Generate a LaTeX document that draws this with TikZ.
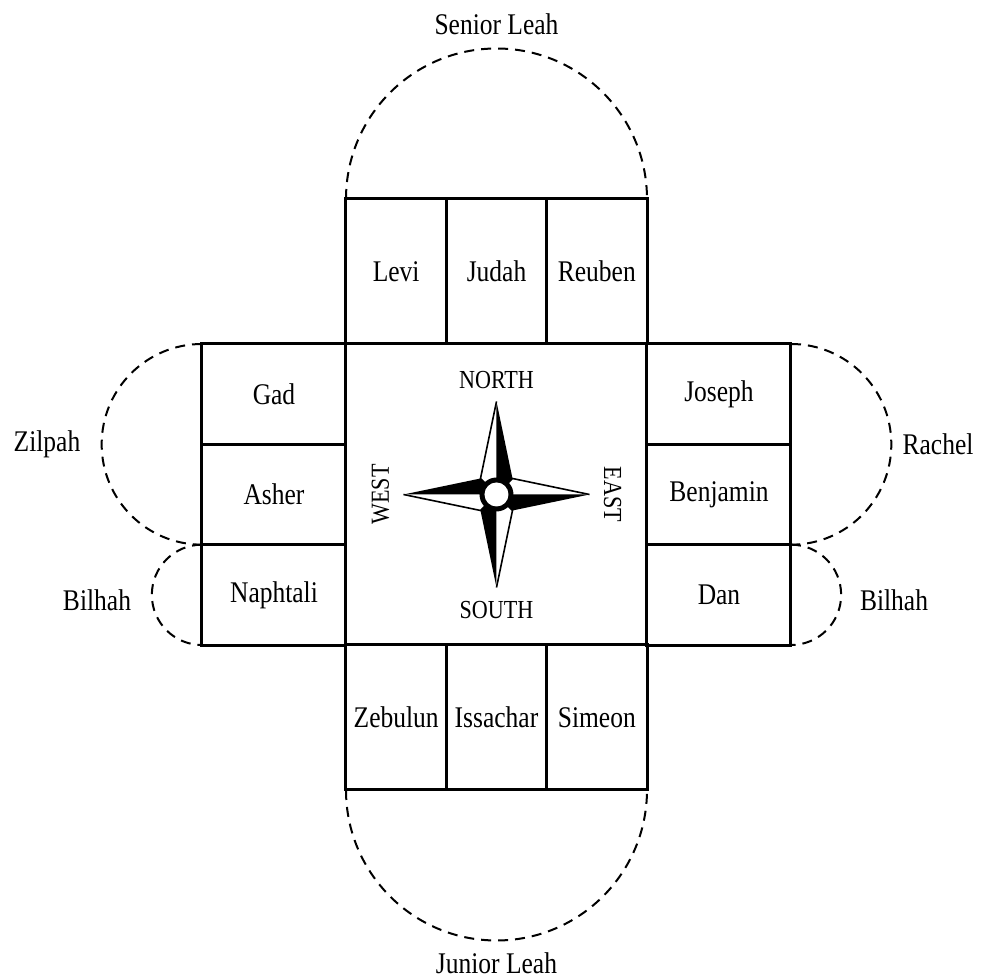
\documentclass[tikz,border=0pt]{standalone}
\usepackage{fontspec}
\setmainfont{Liberation Serif}[FakeStretch=0.85]
\usetikzlibrary{positioning}

\begin{document}
\begin{tikzpicture}[
  tribe/.style={draw, line width=1.5pt, minimum width=50.17pt, minimum height=72.5pt,
                inner sep=0pt, outer sep=0pt, font=\fontsize{15}{17}\selectfont},
  side tribe/.style={tribe, minimum width=72pt, minimum height=50.17pt},
  tentline/.style={line width=1pt, dash pattern=on 5pt off 3.5pt},
  mother/.style={inner sep=0pt, font=\fontsize{15}{17}\selectfont},
  point/.style={inner sep=0pt, font=\fontsize{13}{15}\selectfont},
]
  \useasboundingbox (-248.25pt,-241.75pt) rectangle (245.25pt,247.25pt);

  % Tabernacle
  \node[draw, line width=1.5pt, minimum size=150.5pt, outer sep=0pt] (camp) at (0,0) {};

  % North
  \node[tribe, anchor=south west] (levi) at (camp.north west) {Levi};
  \node[tribe, right=0pt of levi] (judah) {Judah};
  \node[tribe, right=0pt of judah] (reuben) {Reuben};
  % West
  \node[side tribe, anchor=north east] (gad) at (camp.north west) {Gad};
  \node[side tribe, below=0pt of gad] (asher) {Asher};
  \node[side tribe, below=0pt of asher] (naphtali) {Naphtali};
  % East
  \node[side tribe, anchor=north west] (joseph) at (camp.north east) {Joseph};
  \node[side tribe, below=0pt of joseph] (benjamin) {Benjamin};
  \node[side tribe, below=0pt of benjamin] (dan) {Dan};
  % South
  \node[tribe, anchor=north west] (zebulun) at (camp.south west) {Zebulun};
  \node[tribe, right=0pt of zebulun] (issachar) {Issachar};
  \node[tribe, right=0pt of issachar] (simeon) {Simeon};

  % Mothers
  \draw[tentline] (levi.north west) arc[start angle=180, end angle=0, radius=75.25pt];
  \draw[tentline] (zebulun.south west) arc[start angle=180, end angle=360, radius=75.25pt];
  \draw[tentline] (gad.north west) arc[start angle=90, end angle=270, radius=50.17pt];
  \draw[tentline] (naphtali.north west) arc[start angle=90, end angle=270, radius=25.08pt];
  \draw[tentline] (joseph.north east) arc[start angle=90, end angle=-90, radius=50.17pt];
  \draw[tentline] (dan.north east) arc[start angle=90, end angle=-90, radius=25.08pt];

  \node[mother] (senior) at ([yshift=87.5pt]judah.north) {Senior Leah};
  \node[mother] (junior) at ([yshift=-86.5pt]issachar.south) {Junior Leah};
  \node[mother] (zilpah) at ([xshift=-77.5pt]asher.north west) {Zilpah};
  \node[mother] (rachel) at ([xshift=73.5pt]benjamin.north east) {Rachel};
  \node[mother] (bilhahw) at ([xshift=-52.5pt, yshift=-2.5pt]naphtali.west) {Bilhah};
  \node[mother] (bilhahe) at ([xshift=51.5pt, yshift=-2.5pt]dan.east) {Bilhah};

  % Compass
  \foreach \a in {0,-90,-180,-270} {
    \fill[rotate=\a] (0,46.5pt) -- (8pt,8pt) -- (0,0) -- cycle;
    \draw[rotate=\a, line width=0.8pt, line join=miter] (0,46.5pt) -- (-8pt,8pt) -- (0,0);
  }
  \fill (camp.center) circle (8.5pt);
  \fill[white] (camp.center) circle (6pt);

  \node[point] (north) at ([yshift=57pt]camp.center) {NORTH};
  \node[point] (south) at ([yshift=-57.75pt]camp.center) {SOUTH};
  \node[point, rotate=90] (west) at ([xshift=-58pt]camp.center) {WEST};
  \node[point, rotate=-90] (east) at ([xshift=58pt]camp.center) {EAST};
\end{tikzpicture}
\end{document}
